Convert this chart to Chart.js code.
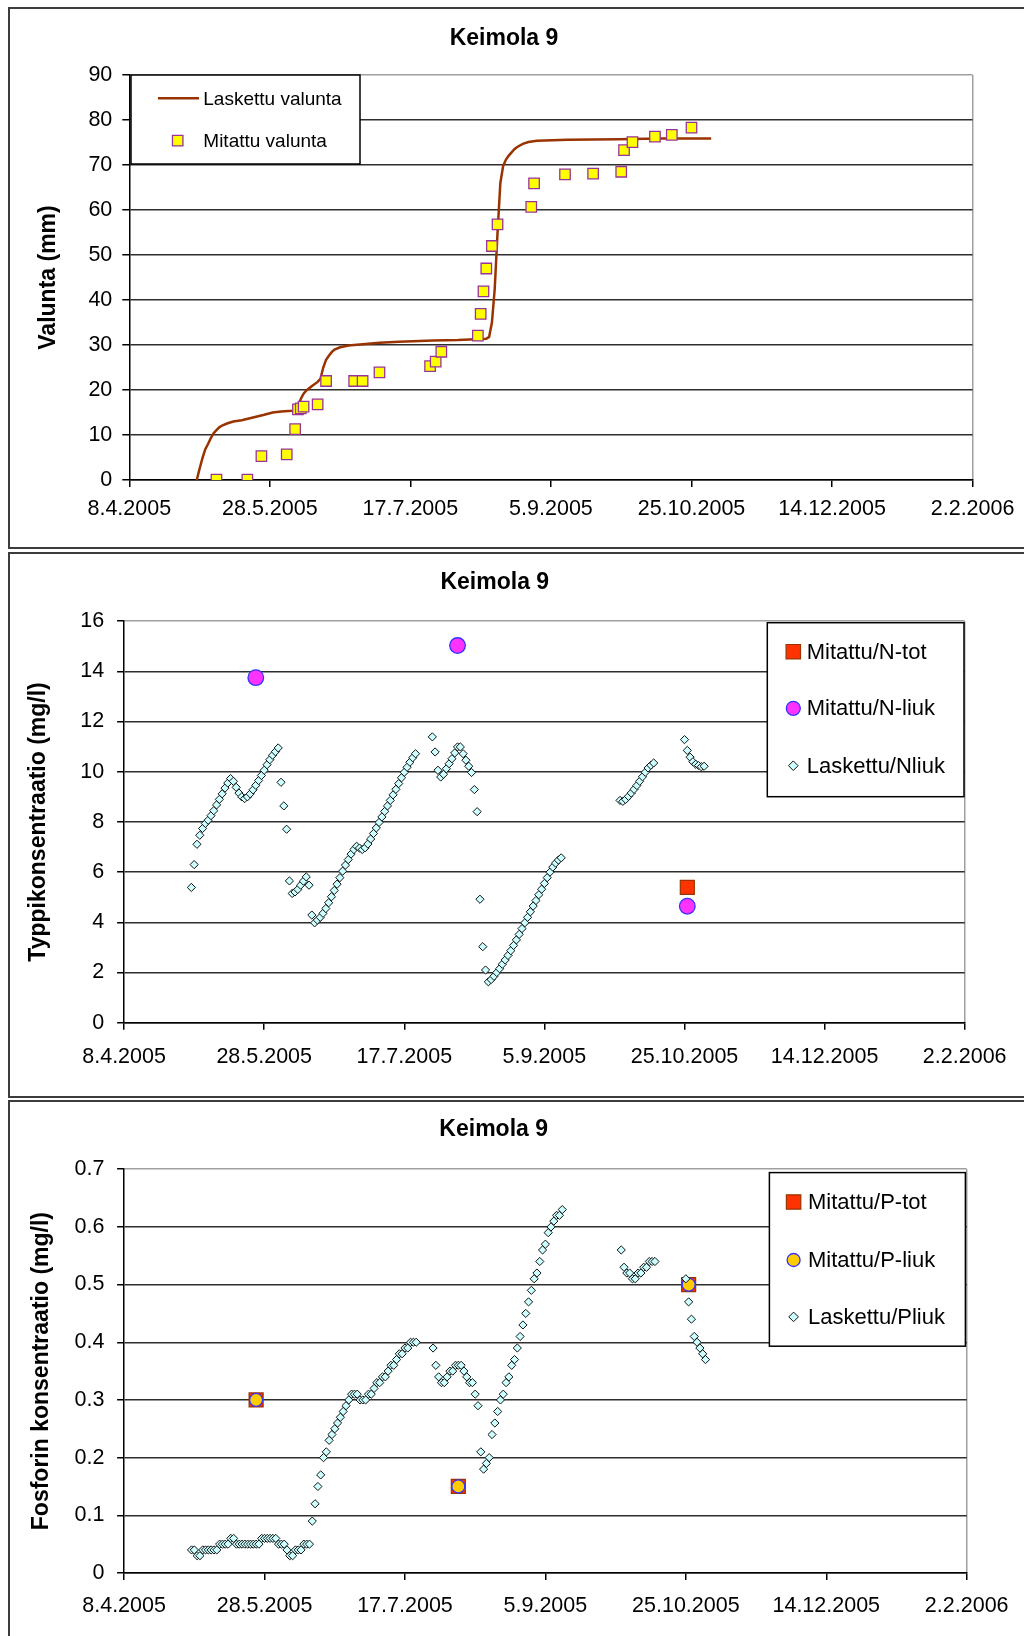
<!DOCTYPE html>
<html>
<head>
<meta charset="utf-8">
<title>Keimola 9</title>
<script src="https://cdn.jsdelivr.net/npm/chart.js@4.4.1/dist/chart.umd.min.js"></script>
<style>
  html, body { margin: 0; padding: 0; background: #fff; }
  body { position: relative; width: 1024px; height: 1636px; overflow: hidden; }
  .panel { position: absolute; left: 8px; width: 1100px; border: 2px solid #3c3c3c; box-sizing: border-box; }
  canvas { position: absolute; left: 0; }
</style>
</head>
<body>
<div class="panel" style="top:7px;height:542px"></div>
<div class="panel" style="top:552px;height:546px"></div>
<div class="panel" style="top:1100px;height:600px"></div>
<canvas id="chart-runoff" width="1024" height="550" style="top:0"></canvas>
<canvas id="chart-n" width="1024" height="550" style="top:550px"></canvas>
<canvas id="chart-p" width="1024" height="536" style="top:1100px"></canvas>
<script>
const FONT = "'Liberation Sans', Arial, sans-serif";
const COLOR_GRID = "#2e2e2e";
const COLOR_FRAME = "#a0a0a0";
const TICK_FONT = 21.5;
Chart.defaults.font.family = FONT;
Chart.defaults.color = "#000";

// x values everywhere are days counted from 8.4.2005 (axis runs 0..300, tick every 50 days)
const X_TICK_LABELS = ["8.4.2005", "28.5.2005", "17.7.2005", "5.9.2005", "25.10.2005", "14.12.2005", "2.2.2006"];

// ---- runoff (mm) -------------------------------------------------------------
const RUNOFF_CALC_DAY = [24, 25, 26, 27, 28, 29, 30, 31, 32, 33, 35, 37, 40, 44, 48, 51, 54, 58, 59, 60,
  61, 62, 63, 65, 67, 68, 69, 70, 71, 72, 73, 75, 78, 84, 89, 96, 108, 117, 127, 128,
  129, 130, 131, 132, 133, 134, 135, 136, 137, 138, 140, 142, 145, 156, 174, 189, 207];
const RUNOFF_CALC_MM = [0, 2.5, 4.8, 6.8, 8.0, 9.3, 10.4, 11.1, 11.7, 12.1, 12.6, 13.0, 13.3, 13.9, 14.5, 15.0, 15.2, 15.4, 15.5, 16.0,
  18.0, 19.2, 19.9, 20.9, 21.8, 22.5, 25.0, 26.7, 27.6, 28.4, 29.0, 29.5, 29.9, 30.2, 30.5, 30.7, 31.0, 31.1, 31.4, 31.8,
  35.0, 42.5, 55.0, 66.0, 69.8, 71.2, 72.1, 72.8, 73.5, 74.0, 74.7, 75.1, 75.4, 75.6, 75.7, 75.9, 75.9];
const RUNOFF_MEAS_DAY = [31, 42, 47, 56, 59, 60, 61, 62, 67, 70, 80, 83, 89, 107, 109, 111,
  124, 125, 126, 127, 129, 131, 143, 144, 155, 165, 175, 176, 179, 187, 193, 200];
const RUNOFF_MEAS_MM = [0.1, 0.1, 5.3, 5.7, 11.3, 15.7, 15.9, 16.3, 16.8, 22.0, 22.0, 22.0, 23.9, 25.3, 26.3, 28.5,
  32.1, 36.9, 41.9, 47.0, 52.0, 56.8, 60.7, 65.9, 67.9, 68.1, 68.5, 73.3, 75.1, 76.3, 76.7, 78.3];

// ---- model output, one value per day from CALC_START_DAY (null = no value) ---
const CALC_START_DAY = 24;
const N_CALC = [
  5.39, 6.30, 7.11, 7.47, 7.74, 7.94, 8.07, 8.25, 8.45, 8.68, 8.90, 9.12, 9.35, 9.55, 9.73,   // 24-38
  9.62, 9.38, 9.15, 9.00, 8.93,                                                               // 39-43
  9.00, 9.12, 9.28, 9.46, 9.65, 9.85, 10.06, 10.28, 10.48, 10.66, 10.80, 10.95,              // 44-55
  9.58, 8.64, 7.71, 5.65, 5.15, 5.21, 5.31, 5.48, 5.64, 5.81, 5.48,                          // 56-66
  4.29, 3.98,                                                                                 // 67-68
  4.09, 4.20, 4.36, 4.55, 4.78, 5.02, 5.27, 5.52, 5.78, 6.04, 6.28, 6.50, 6.72, 6.90, 7.03,  // 69-83
  6.96, 6.90, 6.97, 7.12,                                                                     // 84-87
  7.32, 7.54, 7.76, 7.98, 8.20, 8.42, 8.64, 8.86, 9.08, 9.30, 9.53, 9.76, 9.98, 10.18,
  10.38, 10.56, 10.72,                                                                        // 88-104
  null, null, null, null, null,                                                               // 105-109
  11.39, 10.79, 10.06, 9.79, 9.90, 10.12, 10.32, 10.52, 10.75, 10.99, 10.99, 10.72, 10.46,
  10.22, 9.97, 9.29, 8.41,                                                                    // 110-126
  4.92, 3.03, 2.10,                                                                           // 127-129
  1.63, 1.72, 1.85, 2.00, 2.15, 2.33, 2.50, 2.68, 2.87, 3.08, 3.30, 3.52, 3.75, 3.98, 4.20,
  4.42, 4.65, 4.87, 5.10, 5.32, 5.55, 5.78, 6.00, 6.20, 6.36, 6.48, 6.57,                    // 130-156
  null, null, null, null, null, null, null, null, null, null,
  null, null, null, null, null, null, null, null, null, null,                                 // 157-176
  8.86, 8.82, 8.90, 9.02, 9.15, 9.30, 9.45, 9.62, 9.80, 9.98, 10.15, 10.26, 10.35,           // 177-189
  null, null, null, null, null, null, null, null, null, null,                                 // 190-199
  11.28, 10.85, 10.58, 10.40, 10.30, 10.25, 10.20, 10.22,                                     // 200-207
];
const P_CALC = [
  0.04, 0.04, 0.03, 0.03, 0.04, 0.04, 0.04, 0.04, 0.04, 0.04,                                 // 24-33
  0.05, 0.05, 0.05, 0.05, 0.06, 0.06,                                                         // 34-39
  0.05, 0.05, 0.05, 0.05, 0.05, 0.05, 0.05, 0.05, 0.05,                                       // 40-48
  0.06, 0.06, 0.06, 0.06, 0.06, 0.06, 0.05, 0.05, 0.05, 0.04, 0.03, 0.03,                     // 49-60
  0.04, 0.04, 0.04, 0.05, 0.05, 0.05,                                                         // 61-66
  0.09, 0.12, 0.15, 0.17, 0.20, 0.21, 0.23, 0.24, 0.25, 0.26, 0.27, 0.28, 0.29, 0.30,
  0.31, 0.31, 0.31, 0.30, 0.30, 0.30, 0.31, 0.31, 0.32, 0.33, 0.33, 0.34, 0.34, 0.35,
  0.36, 0.36, 0.37, 0.38, 0.38, 0.39, 0.39, 0.40, 0.40, 0.40,                                 // 67-104
  null, null, null, null, null,                                                               // 105-109
  0.39, 0.36, 0.34, 0.33, 0.33, 0.34, 0.35, 0.35, 0.36, 0.36, 0.36, 0.35, 0.34, 0.33,
  0.33, 0.31, 0.29,                                                                           // 110-126
  0.21, 0.18, 0.19, 0.20, 0.24, 0.26, 0.28, 0.30, 0.31,                                       // 127-135
  0.33, 0.34, 0.36, 0.37, 0.39, 0.41, 0.43, 0.45, 0.47, 0.49, 0.51, 0.52, 0.54, 0.56,
  0.57, 0.59, 0.60, 0.61, 0.62, 0.62, 0.63,                                                   // 136-156
  null, null, null, null, null, null, null, null, null, null,
  null, null, null, null, null, null, null, null, null, null,                                 // 157-176
  0.56, 0.53, 0.52, 0.52, 0.51, 0.51, 0.52, 0.52, 0.53, 0.53, 0.54, 0.54, 0.54,              // 177-189
  null, null, null, null, null, null, null, null, null, null,                                 // 190-199
  0.51, 0.47, 0.44, 0.41, 0.40, 0.39, 0.38, 0.37,                                             // 200-207
];

// ---- measured samples ----------------------------------------------------------
const SAMPLE_DAY = [47, 119, 201];
const N_TOT = [null, null, 5.39];
const N_LIUK = [13.75, 15.03, 4.64];
const P_TOT = [0.30, 0.15, 0.50];
const P_LIUK = [0.30, 0.15, 0.50];

// ---- helpers -----------------------------------------------------------------

function pairs(days, values) {
  const out = [];
  days.forEach((d, i) => { if (values[i] !== null) out.push({ x: d, y: values[i] }); });
  return out;
}

function daily(values) {
  return pairs(values.map((_, i) => CALC_START_DAY + i), values);
}

function xAxis(labelPad) {
  return {
    type: "linear",
    min: 0,
    max: 300,
    ticks: {
      stepSize: 50, padding: labelPad, autoSkip: false, maxRotation: 0,
      font: { size: TICK_FONT }, color: "#000",
      callback: (v) => X_TICK_LABELS[Math.round(v / 50)],
    },
    grid: {
      color: (c) => (c.index === X_TICK_LABELS.length - 1 ? COLOR_FRAME : "transparent"),
      tickColor: "#000", tickLength: 7, lineWidth: 1.5,
    },
    border: { color: "#000", width: 1.5 },
    afterFit: (s) => { s.height = 50; },
  };
}

function yAxis(o) {
  return {
    min: 0,
    max: o.max,
    ticks: { stepSize: o.step, padding: o.tickPad, font: { size: TICK_FONT }, color: "#000", callback: o.fmt },
    grid: {
      color: (c) => (Math.abs(c.tick.value - o.max) < 1e-9 ? COLOR_FRAME : COLOR_GRID),
      tickColor: "#000", tickLength: 7, lineWidth: 1.5,
    },
    border: { color: "#000", width: 1.5 },
    title: {
      display: true, text: o.title, color: "#000",
      font: { size: 23, weight: "bold" }, padding: { top: o.titlePad, bottom: 0 },
    },
    afterFit: (s) => { s.width = o.width; },
  };
}

// chart heading, drawn at a fixed spot like the spreadsheet original
const panelTitle = {
  id: "panelTitle",
  afterDraw(chart, args, opts) {
    const { ctx } = chart;
    ctx.save();
    ctx.font = `bold 23px ${FONT}`;
    ctx.fillStyle = "#000";
    ctx.textAlign = "center";
    ctx.textBaseline = "middle";
    ctx.fillText(opts.text, opts.x, opts.y);
    ctx.restore();
  },
};

// boxed legend sitting inside the plot area
const boxLegend = {
  id: "boxLegend",
  afterDraw(chart, args, opts) {
    const { ctx } = chart;
    const b = opts.box;
    ctx.save();
    ctx.fillStyle = "#fff";
    ctx.fillRect(b.x, b.y, b.w, b.h);
    ctx.strokeStyle = "#000";
    ctx.lineWidth = 1.5;
    ctx.strokeRect(b.x, b.y, b.w, b.h);
    ctx.font = `${opts.fontSize}px ${FONT}`;
    ctx.textAlign = "left";
    ctx.textBaseline = "middle";
    for (const item of opts.items) {
      const ds = chart.data.datasets[item.dataset];
      const y = b.y + item.dy;
      if (ds.showLine) {
        ctx.strokeStyle = ds.borderColor;
        ctx.lineWidth = ds.borderWidth;
        ctx.beginPath();
        ctx.moveTo(item.lineFrom, y);
        ctx.lineTo(item.lineTo, y);
        ctx.stroke();
      } else {
        ctx.fillStyle = ds.backgroundColor;
        ctx.strokeStyle = ds.borderColor;
        ctx.lineWidth = ds.borderWidth;
        Chart.helpers.drawPoint(ctx, {
          pointStyle: ds.pointStyle, radius: item.radius || ds.pointRadius,
          borderWidth: ds.borderWidth, rotation: 0,
        }, opts.markerX, y);
      }
      ctx.fillStyle = "#000";
      ctx.fillText(ds.label, opts.textX, y + 1);
    }
    ctx.restore();
  },
};

function baseOptions(pad, title, legend, scales) {
  return {
    responsive: false,
    animation: false,
    events: [],
    layout: { padding: pad },
    scales,
    plugins: { legend: { display: false }, tooltip: { enabled: false }, panelTitle: title, boxLegend: legend },
  };
}

const MEAS_SQUARE = { pointStyle: "rect", pointRadius: 9.9, backgroundColor: "#ff3300", borderColor: "#993300", borderWidth: 1.2 };
const CALC_DIAMOND = { pointStyle: "rectRot", pointRadius: 4.1, backgroundColor: "#ccffff", borderColor: "#111", borderWidth: 1 };

// ---- Chart 1: cumulative runoff ------------------------------------------------

new Chart(document.getElementById("chart-runoff"), {
  type: "scatter",
  data: {
    datasets: [
      {
        label: "Laskettu valunta",
        data: pairs(RUNOFF_CALC_DAY, RUNOFF_CALC_MM),
        showLine: true, pointRadius: 0, borderColor: "#993300", backgroundColor: "#993300",
        borderWidth: 2.5, tension: 0, order: 1,
      },
      {
        label: "Mitattu valunta",
        data: pairs(RUNOFF_MEAS_DAY, RUNOFF_MEAS_MM),
        pointStyle: "rect", pointRadius: 7.4, backgroundColor: "#ffff00", borderColor: "#993399",
        borderWidth: 1.3, order: 0,
      },
    ],
  },
  options: baseOptions(
    { left: 0, top: 75, right: 51.4, bottom: 20 },
    { text: "Keimola 9", x: 504, y: 38.6 },
    {
      box: { x: 131, y: 75, w: 229, h: 89 }, fontSize: 19, markerX: 177.7, textX: 203.3,
      items: [
        { dataset: 0, dy: 23.3, lineFrom: 158, lineTo: 199 },
        { dataset: 1, dy: 65.7 },
      ],
    },
    {
      x: xAxis(9),
      y: yAxis({ max: 90, step: 10, tickPad: 10, width: 129.3, titlePad: 34.7, title: "Valunta (mm)", fmt: (v) => v }),
    }
  ),
  plugins: [panelTitle, boxLegend],
});

// ---- Chart 2: nitrogen -----------------------------------------------------------

new Chart(document.getElementById("chart-n"), {
  type: "scatter",
  data: {
    datasets: [
      { label: "Mitattu/N-tot", data: pairs(SAMPLE_DAY, N_TOT), ...MEAS_SQUARE, order: 2 },
      {
        label: "Mitattu/N-liuk", data: pairs(SAMPLE_DAY, N_LIUK),
        pointStyle: "circle", pointRadius: 7.8, backgroundColor: "#ff33ff", borderColor: "#3333ff", borderWidth: 1.3, order: 1,
      },
      { label: "Laskettu/Nliuk", data: daily(N_CALC), ...CALC_DIAMOND, order: 0 },
    ],
  },
  options: baseOptions(
    { left: 0, top: 71.2, right: 59.3, bottom: 27.3 },
    { text: "Keimola 9", x: 494.8, y: 32.5 },
    {
      box: { x: 767.3, y: 72.7, w: 196.7, h: 174 }, fontSize: 22, markerX: 793.3, textX: 806.7,
      items: [
        { dataset: 0, dy: 29, radius: 10.2 },
        { dataset: 1, dy: 85.6, radius: 7 },
        { dataset: 2, dy: 143, radius: 4.8 },
      ],
    },
    {
      x: xAxis(14),
      y: yAxis({ max: 16, step: 2, tickPad: 13, width: 124.1, titlePad: 25.2, title: "Typpikonsentraatio (mg/l)", fmt: (v) => v }),
    }
  ),
  plugins: [panelTitle, boxLegend],
});

// ---- Chart 3: phosphorus ---------------------------------------------------------

new Chart(document.getElementById("chart-p"), {
  type: "scatter",
  data: {
    datasets: [
      { label: "Mitattu/P-tot", data: pairs(SAMPLE_DAY, P_TOT), ...MEAS_SQUARE, order: 2 },
      {
        label: "Mitattu/P-liuk", data: pairs(SAMPLE_DAY, P_LIUK),
        pointStyle: "circle", pointRadius: 6.5, backgroundColor: "#ffcc00", borderColor: "#3333ff", borderWidth: 1.3, order: 1,
      },
      { label: "Laskettu/Pliuk", data: daily(P_CALC), ...CALC_DIAMOND, order: 0 },
    ],
  },
  options: baseOptions(
    { left: 0, top: 69.2, right: 57.3, bottom: 13 },
    { text: "Keimola 9", x: 493.7, y: 29.4 },
    {
      box: { x: 769.4, y: 72.6, w: 196, h: 173.6 }, fontSize: 22, markerX: 793.6, textX: 808,
      items: [
        { dataset: 0, dy: 29.4, radius: 10.2 },
        { dataset: 1, dy: 87.4, radius: 6.5 },
        { dataset: 2, dy: 144.3, radius: 4.8 },
      ],
    },
    {
      x: xAxis(13),
      y: yAxis({
        max: 0.7, step: 0.1, tickPad: 12.6, width: 124.1, titlePad: 27.7,
        title: "Fosforin konsentraatio (mg/l)", fmt: (v) => (v === 0 ? "0" : v.toFixed(1)),
      }),
    }
  ),
  plugins: [panelTitle, boxLegend],
});
</script>
</body>
</html>
